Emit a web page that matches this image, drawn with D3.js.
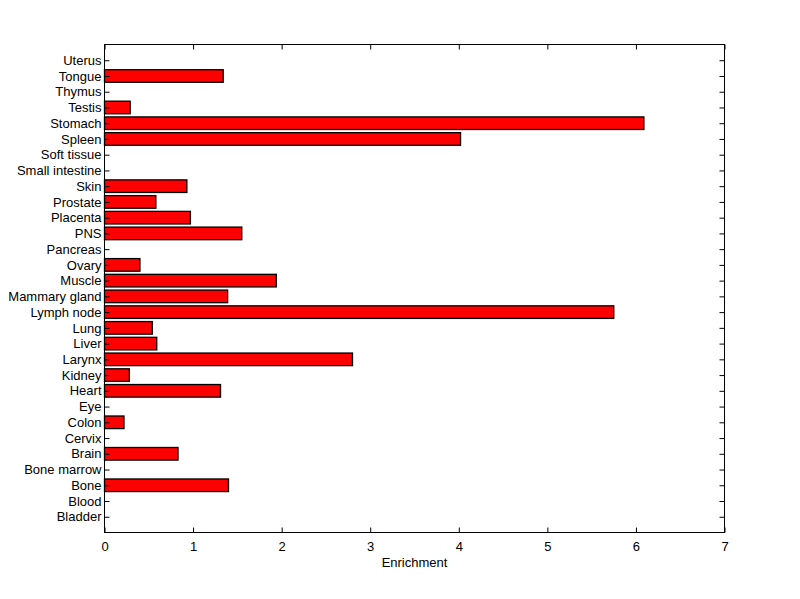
<!DOCTYPE html>
<html><head><meta charset="utf-8">
<script src="https://cdn.jsdelivr.net/npm/d3@7"></script>
<style>body{margin:0;background:#fff}svg{display:block}text{font-family:"Liberation Sans",Arial,sans-serif;font-size:13px;fill:#000}</style>
</head><body><svg id="c" width="800" height="599"></svg>
<script>
const categories = ["Bladder","Blood","Bone","Bone marrow","Brain","Cervix","Colon","Eye","Heart","Kidney","Larynx","Liver","Lung","Lymph node","Mammary gland","Muscle","Ovary","Pancreas","PNS","Placenta","Prostate","Skin","Small intestine","Soft tissue","Spleen","Stomach","Testis","Thymus","Tongue","Uterus"];
const values = [0,0,1.40,0,0.83,0,0.22,0,1.31,0.28,2.80,0.59,0.54,5.75,1.39,1.94,0.40,0,1.55,0.97,0.58,0.93,0,0,4.02,6.09,0.29,0,1.34,0];
const xTicks = [0,1,2,3,4,5,6,7];
const xLabel = "Enrichment";

const svg = d3.select("#c");
const L=104.5, R=724.5, T=44.5, B=532.5;
const x = d3.scaleLinear().domain([0,7]).range([L,R]);
const y = d3.scaleLinear().domain([0,categories.length+1]).range([B,T]);
const bw = 0.8;

svg.append("g").selectAll("rect").data(values).join("rect")
  .attr("x", x(0))
  .attr("y", (d,i)=>y(i+1+bw/2))
  .attr("width", d=>Math.max(0,x(d)-x(0)))
  .attr("height", y(0)-y(bw))
  .attr("fill", d=>d>0?"#ff0000":"none")
  .attr("stroke", d=>d>0?"#000":"none")
  .attr("stroke-width",1.3);

const tk = 5;
const gb = svg.append("g").attr("transform",`translate(0,${B})`)
  .call(d3.axisBottom(x).tickValues(xTicks).tickFormat(d3.format("d")).tickSize(-tk).tickPadding(9));
const gt = svg.append("g").attr("transform",`translate(0,${T})`)
  .call(d3.axisTop(x).tickValues(xTicks).tickFormat("").tickSize(-tk));
const yAx = d3.axisLeft(y).tickValues(d3.range(1,categories.length+1)).tickFormat(d=>categories[d-1]).tickSize(-tk).tickPadding(3);
const gl = svg.append("g").attr("transform",`translate(${L},0)`).call(yAx);
const gr = svg.append("g").attr("transform",`translate(${R},0)`)
  .call(d3.axisRight(y).tickValues(d3.range(1,categories.length+1)).tickFormat("").tickSize(-tk));
[gb,gt,gl,gr].forEach(g=>{g.select(".domain").remove();g.selectAll("line").attr("stroke","#000");g.selectAll("text").attr("font-family",null).attr("font-size",null);});
svg.append("rect").attr("x",L).attr("y",T).attr("width",R-L).attr("height",B-T).attr("fill","none").attr("stroke","#000").attr("stroke-width",1);
svg.append("text").attr("x",(L+R)/2).attr("y",567).attr("text-anchor","middle").text(xLabel);
</script></body></html>
